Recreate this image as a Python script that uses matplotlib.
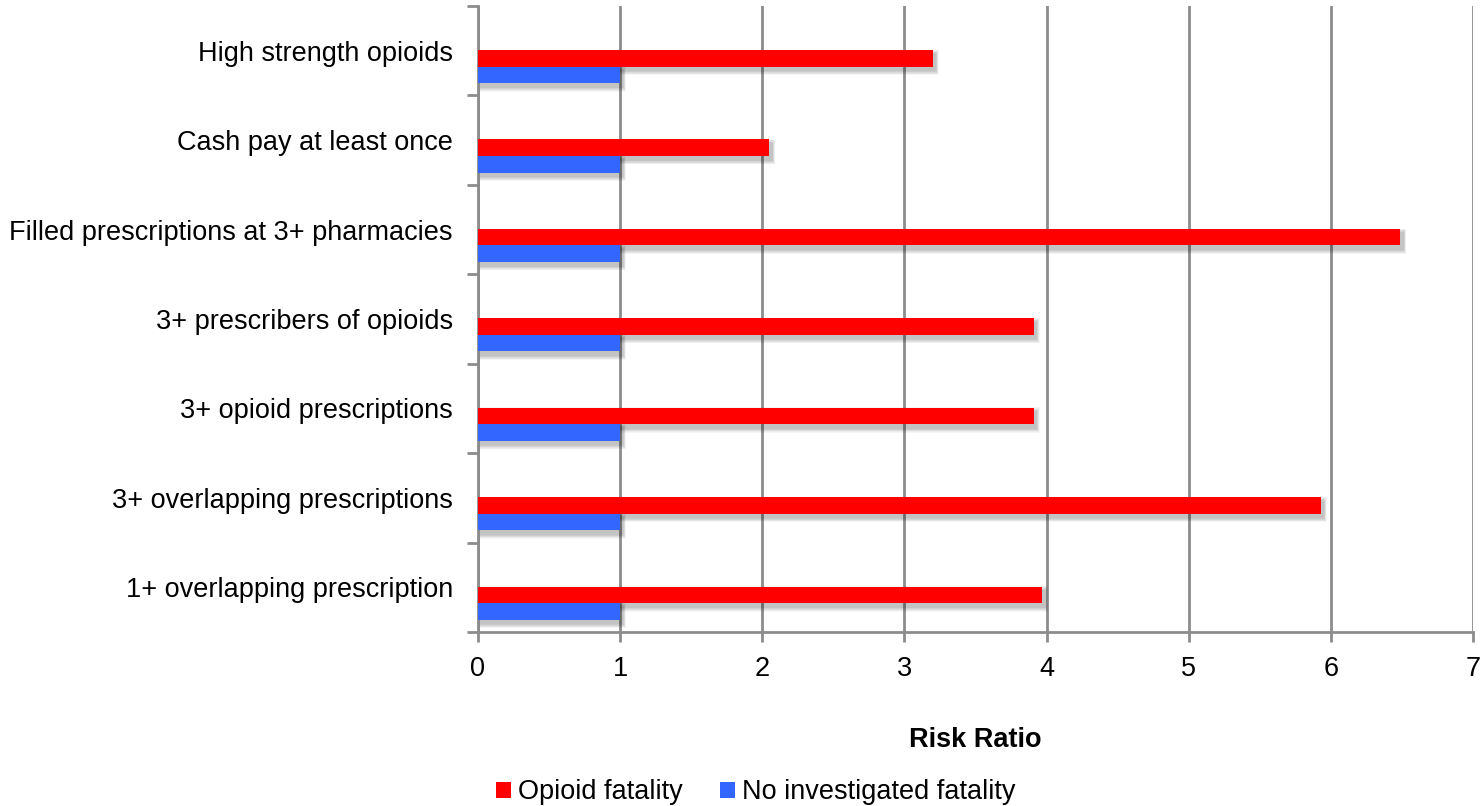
import matplotlib
matplotlib.use("Agg")
import matplotlib.pyplot as plt
from matplotlib.patches import Rectangle
import numpy as np

plt.rcParams['font.family'] = ['Liberation Sans', 'DejaVu Sans']

categories = [
    "High strength opioids",
    "Cash pay at least once",
    "Filled prescriptions at 3+ pharmacies",
    "3+ prescribers of opioids",
    "3+ opioid prescriptions",
    "3+ overlapping prescriptions",
    "1+ overlapping prescription",
]
opioid_fatality = [3.20, 2.05, 6.49, 3.91, 3.91, 5.93, 3.97]
no_fatality = [1.0, 1.0, 1.0, 1.0, 1.0, 1.0, 1.0]
series_names = ["Opioid fatality", "No investigated fatality"]
colors = ["#ff0000", "#3366ff"]
x_ticks = [0, 1, 2, 3, 4, 5, 6, 7]

FS = 19.5

fig = plt.figure(figsize=(14.82, 8.06), dpi=100)
ax = fig.add_axes([0.3225, 0.2159, 0.6714, 0.7767])

n = len(categories)
ypos = np.arange(n)
ax.set_ylim(n - 0.5, -0.5)
ax.set_xlim(0, 7)

bar_h = 0.185
offsets = [0.085, 0.27]

def shadow(ax, x0, y0, w, h):
    # soft drop shadow built from stacked translucent rectangles
    layers = 7
    for i in range(layers):
        d = layers - i
        dx = d * 0.006
        dy = d * 0.014
        ax.add_patch(Rectangle((x0 + 0.02 - dx * 0.5, y0 + 0.045 - dy * 0.5),
                               w + dx, h + dy, facecolor="black", alpha=0.035,
                               edgecolor="none", zorder=2))

for vals, off in zip([opioid_fatality, no_fatality], offsets):
    for y, v in zip(ypos, vals):
        shadow(ax, 0, y + off - bar_h / 2, v, bar_h)
for vals, off, col in zip([opioid_fatality, no_fatality], offsets, colors):
    ax.barh(ypos + off, vals, height=bar_h, color=col, zorder=3, linewidth=0)

ax.set_xticks(x_ticks)
ax.set_xticklabels([str(t) for t in x_ticks], fontsize=FS)
ax.set_yticks(ypos)
ax.set_yticklabels(categories, fontsize=FS)
ax.tick_params(axis='y', length=0, pad=18)
ax.tick_params(axis='x', length=7, width=2, color="#8c8c8c", pad=10, direction='out')

# category boundary ticks on the left axis
ax.set_yticks(np.arange(-0.5, n + 0.5, 1.0), minor=True)
ax.tick_params(axis='y', which='minor', length=8, width=2, color="#8c8c8c")

ax.grid(axis='x', color="#8c8c8c", linewidth=2, zorder=1)
ax.set_axisbelow(True)
for s in ["top", "right"]:
    ax.spines[s].set_visible(False)
for s in ["left", "bottom"]:
    ax.spines[s].set_color("#8c8c8c")
    ax.spines[s].set_linewidth(2)

ax.set_xlabel("Risk Ratio", fontsize=FS, fontweight='bold', labelpad=33)

handles = [Rectangle((0, 0), 1, 1, facecolor=c, edgecolor='none') for c in colors]
fig.legend(handles, series_names, loc='center', bbox_to_anchor=(0.510, 0.017),
           ncol=2, frameon=False, fontsize=FS, handlelength=0.55, handleheight=0.55,
           handletextpad=0.25, columnspacing=1.4)

fig.savefig("out.png", dpi=100)
